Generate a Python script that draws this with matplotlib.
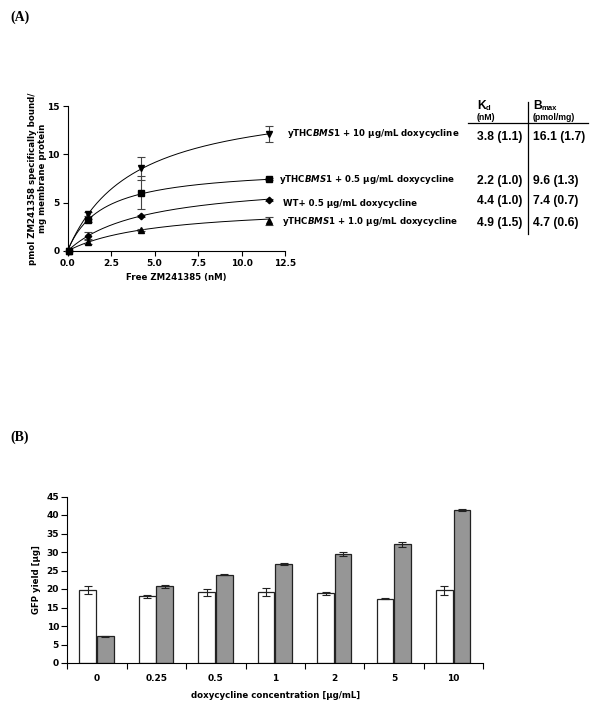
import numpy as np
import matplotlib
matplotlib.use("Agg")
import matplotlib.pyplot as plt
from matplotlib.lines import Line2D

plt.rcParams['font.family'] = ['DejaVu Sans']
plt.rcParams['font.weight'] = 'bold'
plt.rcParams['mathtext.fontset'] = 'custom'
plt.rcParams['mathtext.rm'] = 'DejaVu Sans:bold'
plt.rcParams['mathtext.it'] = 'DejaVu Sans:bold:italic'
plt.rcParams['mathtext.bf'] = 'DejaVu Sans:bold'

# ---------------- Panel A data ----------------
free_conc = [0.1, 1.2, 4.2, 11.6]
bound_10 = [0.0, 3.83, 8.55, 12.1]
err_10 = [0.0, 0.2, 1.2, 0.86]
bound_05 = [0.0, 3.2, 6.03, 7.41]
err_05 = [0.0, 0.15, 1.7, 0.1]
bound_wt = [0.0, 1.59, 3.62, 5.28]
err_wt = [0.0, 0.35, 0.1, 0.1]
bound_10b = [0.0, 0.93, 2.17, 3.14]
err_10b = [0.0, 0.25, 0.1, 0.4]

# fitted hyperbola parameters for the drawn curves
fit_kd = [3.8, 2.0, 4.4, 4.9]
fit_bmax = [16.1, 8.7, 7.4, 4.7]

series_labels = [r"yTHC$\mathit{BMS1}$ + 10 µg/mL doxycycline",
                 r"yTHC$\mathit{BMS1}$ + 0.5 µg/mL doxycycline",
                 "WT+ 0.5 µg/mL doxycycline",
                 r"yTHC$\mathit{BMS1}$ + 1.0 µg/mL doxycycline"]
kd_text = ["3.8 (1.1)", "2.2 (1.0)", "4.4 (1.0)", "4.9 (1.5)"]
bmax_text = ["16.1 (1.7)", "9.6 (1.3)", "7.4 (0.7)", "4.7 (0.6)"]

# ---------------- Panel B data ----------------
dox_labels = ["0", "0.25", "0.5", "1", "2", "5", "10"]
gfp_white = [19.8, 18.0, 19.1, 19.3, 18.9, 17.4, 19.6]
gfp_white_err = [1.1, 0.5, 1.0, 1.1, 0.4, 0.1, 1.1]
gfp_gray = [7.2, 20.7, 23.9, 26.7, 29.4, 32.1, 41.3]
gfp_gray_err = [0.15, 0.35, 0.2, 0.3, 0.6, 0.7, 0.3]

W, H = 600, 717
fig = plt.figure(figsize=(W / 100, H / 100), dpi=100)
FS = 6.2


def px(x, y):
    return x / W, 1 - y / H


def axes_px(x0, y0, x1, y1):
    return fig.add_axes([x0 / W, 1 - y1 / H, (x1 - x0) / W, (y1 - y0) / H])


# ---------------- Panel A ----------------
axA = axes_px(67.5, 106, 285, 251)
series = [(bound_10, err_10, 'v', 5), (bound_05, err_05, 's', 4.5),
          (bound_wt, err_wt, 'D', 3.3), (bound_10b, err_10b, '^', 4.3)]
xs = np.linspace(0, free_conc[-1], 200)
for i, (yv, ev, mk, ms) in enumerate(series):
    axA.plot(xs, fit_bmax[i] * xs / (fit_kd[i] + xs), color='black', lw=0.7,
             clip_on=False)
    axA.errorbar(free_conc, yv, yerr=ev, fmt=mk, color='black', ms=ms,
                 ecolor='#444444', elinewidth=0.8, capsize=3, capthick=0.8,
                 clip_on=False)
axA.set_xlim(0, 12.5)
axA.set_ylim(0, 15)
axA.set_xticks([0, 2.5, 5, 7.5, 10, 12.5])
axA.set_xticklabels(["0.0", "2.5", "5.0", "7.5", "10.0", "12.5"])
axA.set_yticks([0, 5, 10, 15])
for s in ['top', 'right']:
    axA.spines[s].set_visible(False)
for s in ['left', 'bottom']:
    axA.spines[s].set_linewidth(0.8)
axA.tick_params(direction='out', length=3.5, width=0.8, labelsize=6.5, pad=2)
for t in axA.get_xticklabels() + axA.get_yticklabels():
    t.set_fontweight('bold')
axA.set_xlabel("Free ZM241385 (nM)", fontsize=FS, fontweight='bold', labelpad=4)
axA.set_ylabel("pmol ZM241358 specifically bound/\nmg membrane protein",
               fontsize=FS, fontweight='bold', labelpad=0, linespacing=1.25)

# series labels
lab_pos = [(287, 134), (279, 179), (283, 203), (282, 222)]
for (x, y), lab in zip(lab_pos, series_labels):
    fig.text(*px(x, y), lab, fontsize=FS, fontweight='bold', va='center', ha='left')

# table
tf = ['Liberation Sans', 'DejaVu Sans']
fig.text(*px(477, 106), "K", fontsize=8.7, fontweight='bold', va='center', family=tf)
fig.text(*px(486, 109), "d", fontsize=5.5, fontweight='bold', va='center', family=tf)
fig.text(*px(477, 118), "(nM)", fontsize=6.3, fontweight='bold', va='center', family=tf)
fig.text(*px(533, 106), "B", fontsize=8.7, fontweight='bold', va='center', family=tf)
fig.text(*px(542, 109), "max", fontsize=5.5, fontweight='bold', va='center', family=tf)
fig.text(*px(533, 118), "(pmol/mg)", fontsize=6.3, fontweight='bold', va='center', family=tf)
fig.add_artist(Line2D([468 / W, 588 / W], [1 - 123 / H, 1 - 123 / H],
                      color='black', lw=0.9))
fig.add_artist(Line2D([528 / W, 528 / W], [1 - 102 / H, 1 - 234 / H],
                      color='black', lw=0.9))
val_y = [137, 181, 201, 223]
for y, kd, bm in zip(val_y, kd_text, bmax_text):
    fig.text(*px(477, y), kd, fontsize=8.7, fontweight='bold', va='center', family=tf)
    fig.text(*px(533, y), bm, fontsize=8.7, fontweight='bold', va='center', family=tf)

fig.text(*px(10, 17), "(A)", fontsize=10, fontweight='bold',
         family=['Liberation Serif'], va='center')
fig.text(*px(10, 437), "(B)", fontsize=10, fontweight='bold',
         family=['Liberation Serif'], va='center')

# ---------------- Panel B ----------------
axB = axes_px(67.3, 496.5, 483.3, 663)
x = np.arange(len(dox_labels))
bw = 0.28
axB.bar(x - 0.155, gfp_white, width=bw, color='white', edgecolor='#222222',
        linewidth=0.9, zorder=2)
axB.bar(x + 0.14, gfp_gray, width=bw, color='#969696', edgecolor='#222222',
        linewidth=0.9, zorder=2)
axB.errorbar(x - 0.155, gfp_white, yerr=gfp_white_err, fmt='none',
             ecolor='#222222', elinewidth=0.8, capsize=3, capthick=0.8, zorder=3)
axB.errorbar(x + 0.14, gfp_gray, yerr=gfp_gray_err, fmt='none',
             ecolor='#222222', elinewidth=0.8, capsize=3, capthick=0.8, zorder=3)
axB.set_xlim(-0.5, len(dox_labels) - 0.5)
axB.set_ylim(0, 45)
axB.set_yticks(np.arange(0, 46, 5))
axB.set_xticks(x)
axB.set_xticklabels(dox_labels)
axB.set_xticks(np.arange(-0.5, len(dox_labels), 1), minor=True)
axB.tick_params(axis='x', which='major', length=0, labelsize=6.5, pad=8)
axB.tick_params(axis='x', which='minor', direction='out', length=4, width=0.8)
axB.tick_params(axis='y', direction='out', length=4, width=0.8, labelsize=6.5, pad=2)
for t in axB.get_xticklabels() + axB.get_yticklabels():
    t.set_fontweight('bold')
for s in ['top', 'right']:
    axB.spines[s].set_visible(False)
for s in ['left', 'bottom']:
    axB.spines[s].set_linewidth(0.8)
axB.set_xlabel("doxycycline concentration [µg/mL]", fontsize=FS,
               fontweight='bold', labelpad=6)
axB.set_ylabel("GFP yield [µg]", fontsize=FS, fontweight='bold', labelpad=4)

fig.savefig("out.png", dpi=100)
